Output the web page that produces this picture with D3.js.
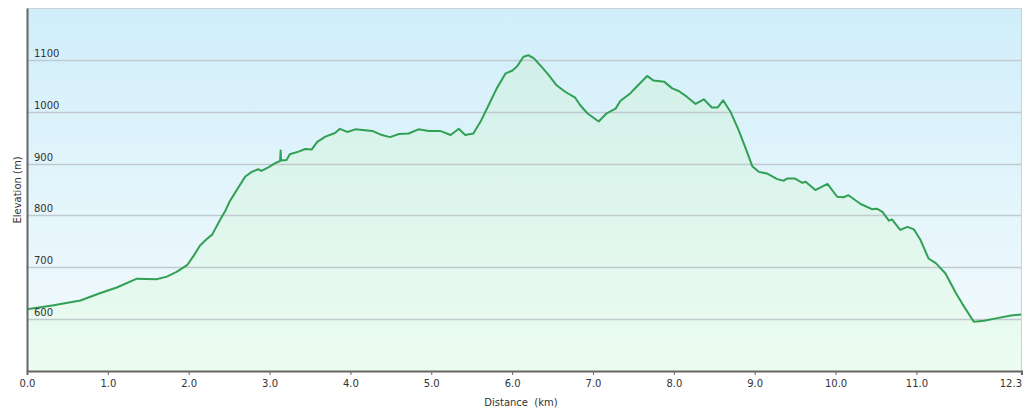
<!DOCTYPE html>
<html>
<head>
<meta charset="utf-8">
<script src="https://cdn.jsdelivr.net/npm/d3@7"></script>
<style>
html,body{margin:0;padding:0;background:#fff;}
svg{display:block;}
text{font-family:"DejaVu Sans",Verdana,sans-serif;}
</style>
</head>
<body>
<svg id="chart" width="1024" height="414"></svg>
<script>
const distanceKm = [0,0.33,0.66,0.90,1.11,1.36,1.60,1.73,1.85,1.98,2.06,2.14,2.22,2.29,2.39,2.45,2.51,2.57,2.70,2.78,2.86,2.90,2.99,3.07,3.13,3.137,3.142,3.21,3.25,3.36,3.44,3.52,3.59,3.69,3.81,3.87,3.96,4.06,4.27,4.39,4.49,4.60,4.72,4.84,4.97,5.11,5.24,5.34,5.42,5.52,5.61,5.71,5.81,5.92,6.00,6.06,6.14,6.20,6.27,6.39,6.47,6.55,6.66,6.78,6.84,6.93,7.07,7.17,7.28,7.34,7.46,7.50,7.67,7.75,7.88,7.98,8.06,8.16,8.27,8.37,8.47,8.54,8.61,8.70,8.80,8.89,8.97,9.05,9.15,9.28,9.36,9.40,9.50,9.59,9.63,9.75,9.90,10.02,10.10,10.16,10.31,10.45,10.51,10.58,10.66,10.70,10.80,10.89,10.97,11.05,11.15,11.24,11.36,11.49,11.57,11.71,11.84,12.00,12.17,12.30];
const elevationM = [619,627,636,650,661,678,677,682,691,704,722,742,754,763,792,808,828,843,875,884,889,886,893,901,905,925,906,907,918,923,928,927,942,952,959,967,961,966,963,955,951,957,958,966,963,963,955,967,955,958,981,1013,1045,1074,1079,1087,1106,1109,1103,1082,1067,1051,1038,1027,1013,997,981,997,1006,1021,1035,1042,1069,1060,1058,1045,1040,1029,1015,1024,1008,1008,1022,1000,965,929,895,884,881,870,867,871,871,863,865,849,861,836,835,839,822,812,813,807,790,792,772,778,773,753,717,708,688,650,629,595,597,602,607,609];
const yTicks = [600,700,800,900,1000,1100];
const xTicks = [0,1,2,3,4,5,6,7,8,9,10,11,12.3];
const xTickLabels = ["0.0","1.0","2.0","3.0","4.0","5.0","6.0","7.0","8.0","9.0","10.0","11.0","12.3"];

const data = distanceKm.map((d,i)=>({d, e: elevationM[i]}));
const svg = d3.select("#chart");
const L = 27, R = 1021.5, T = 8, B = 371;
const x = d3.scaleLinear().domain([0,12.3]).range([L,R]);
const y = d3.scaleLinear().domain([500,1200]).range([B,T]);

const defs = svg.append("defs");
const bg = defs.append("linearGradient").attr("id","bg").attr("x1",0).attr("y1",0).attr("x2",0).attr("y2",1);
bg.append("stop").attr("offset","0%").attr("stop-color","#d0eefa");
bg.append("stop").attr("offset","100%").attr("stop-color","#f5fbfd");
const ag = defs.append("linearGradient").attr("id","ag").attr("gradientUnits","userSpaceOnUse")
  .attr("x1",0).attr("y1",T).attr("x2",0).attr("y2",B);
ag.append("stop").attr("offset","0%").attr("stop-color","#cdeee8");
ag.append("stop").attr("offset","100%").attr("stop-color","#edfcf1");

svg.append("rect").attr("x",L).attr("y",T).attr("width",R-L).attr("height",B-T).attr("fill","url(#bg)");

svg.append("path").datum(data)
  .attr("fill","url(#ag)")
  .attr("d", d3.area().x(p=>x(p.d)).y0(B).y1(p=>y(p.e)));

// gridlines
svg.append("g").selectAll("line").data(yTicks).join("line")
  .attr("x1",L).attr("x2",R).attr("y1",v=>Math.round(y(v))+0.5).attr("y2",v=>Math.round(y(v))+0.5)
  .attr("stroke","#bfc9ce").attr("stroke-width",1.3);

svg.append("path").datum(data)
  .attr("fill","none").attr("stroke","#31a055").attr("stroke-width",2).attr("stroke-linejoin","round")
  .attr("d", d3.line().x(p=>x(p.d)).y(p=>y(p.e)));

// border top/right
svg.append("line").attr("x1",L).attr("x2",R).attr("y1",T+0.5).attr("y2",T+0.5).attr("stroke","#c9d2d6");
svg.append("line").attr("x1",R).attr("x2",R).attr("y1",T).attr("y2",B).attr("stroke","#c9d2d6");

// y labels inside
svg.append("g").selectAll("text").data(yTicks).join("text")
  .attr("x",34).attr("y",v=>y(v)-3).attr("font-size",10).attr("fill","#333").text(v=>v);

// axes
const xAxis = d3.axisBottom(x).tickValues(xTicks).tickSize(4).tickFormat((d,i)=>xTickLabels[i]);
const gx = svg.append("g").attr("transform",`translate(0,${B})`).call(xAxis);
gx.select(".domain").attr("stroke","#666").attr("stroke-width",2);
gx.selectAll(".tick line").attr("stroke","#666");
gx.selectAll(".tick text").attr("font-size",10).attr("fill","#333").attr("font-family","DejaVu Sans").attr("dy","0.95em").attr("y",6);
gx.selectAll(".tick text").filter(d=>d===12.3).attr("text-anchor","end");

const gy = svg.append("g").attr("transform",`translate(${L},0)`).call(d3.axisLeft(y).tickValues([]).tickSize(0));
gy.select(".domain").attr("stroke","#666").attr("stroke-width",2);

svg.append("text").attr("x",521).attr("y",406).attr("text-anchor","middle").attr("font-size",10).attr("fill","#333")
  .style("white-space","pre").text("Distance  (km)");
svg.append("text").attr("transform","translate(21,190) rotate(-90)").attr("text-anchor","middle").attr("font-size",10).attr("fill","#333")
  .text("Elevation (m)");
</script>
</body>
</html>
